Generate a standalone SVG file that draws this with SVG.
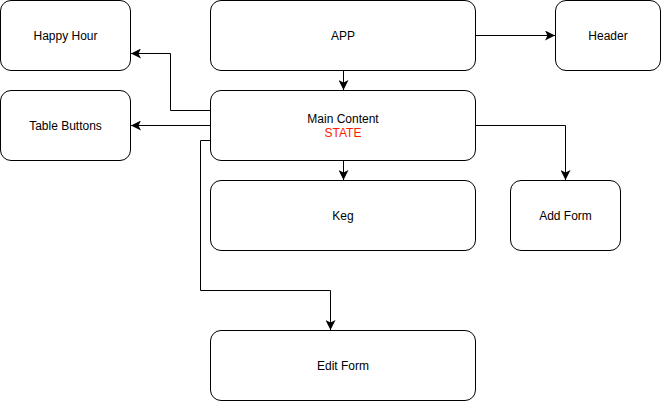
<svg xmlns="http://www.w3.org/2000/svg" width="661" height="401" viewBox="0 0 661 401">
<style>
.box{fill:#fff;stroke:#000;stroke-width:1}
.lbl{font-family:"Liberation Sans",Arial,sans-serif;font-size:12px;fill:#000;text-anchor:middle;dominant-baseline:central}
.red{fill:#ff1a00}
.edge{fill:none;stroke:#000;stroke-width:1}
</style>
<defs>
<marker id="arr" markerUnits="userSpaceOnUse" markerWidth="10" markerHeight="10" refX="8" refY="4" orient="auto" viewBox="0 0 8 8">
<path d="M0,0 L8,4 L0,8 L2,4 Z" fill="#000"/>
</marker>
</defs>
<rect width="661" height="401" fill="#fff"/>
<g id="connectors">
<path class="edge" d="M343.5,70.5 V90" marker-end="url(#arr)"/>
<path class="edge" d="M475.5,35.5 H555" marker-end="url(#arr)"/>
<path class="edge" d="M210.5,110.5 H170.5 V53.5 H131" marker-end="url(#arr)"/>
<path class="edge" d="M210.5,125.5 H131" marker-end="url(#arr)"/>
<path class="edge" d="M343.5,160.5 V180" marker-end="url(#arr)"/>
<path class="edge" d="M475.5,125.5 H565.5 V180" marker-end="url(#arr)"/>
<path class="edge" d="M210.5,140.5 H200.5 V290.5 H330.5 V330" marker-end="url(#arr)"/>
</g>
<g id="happy-hour"><rect class="box" x="0.5" y="0.5" width="130" height="70" rx="10.5"/><text class="lbl" x="65.5" y="36">Happy Hour</text></g>
<g id="table-buttons"><rect class="box" x="0.5" y="90.5" width="130" height="70" rx="10.5"/><text class="lbl" x="65.5" y="126">Table Buttons</text></g>
<g id="app"><rect class="box" x="210.5" y="0.5" width="265" height="70" rx="10.5"/><text class="lbl" x="343" y="36">APP</text></g>
<g id="header"><rect class="box" x="555.5" y="0.5" width="105" height="70" rx="10.5"/><text class="lbl" x="608" y="36">Header</text></g>
<g id="main-content"><rect class="box" x="210.5" y="90.5" width="265" height="70" rx="10.5"/><text class="lbl" x="343" y="119">Main Content</text><text class="lbl red" x="343" y="133">STATE</text></g>
<g id="keg"><rect class="box" x="210.5" y="180.5" width="265" height="70" rx="10.5"/><text class="lbl" x="343" y="216">Keg</text></g>
<g id="add-form"><rect class="box" x="510.5" y="180.5" width="110" height="70" rx="10.5"/><text class="lbl" x="565.5" y="216">Add Form</text></g>
<g id="edit-form"><rect class="box" x="210.5" y="330.5" width="265" height="70" rx="10.5"/><text class="lbl" x="343" y="366">Edit Form</text></g>
</svg>
